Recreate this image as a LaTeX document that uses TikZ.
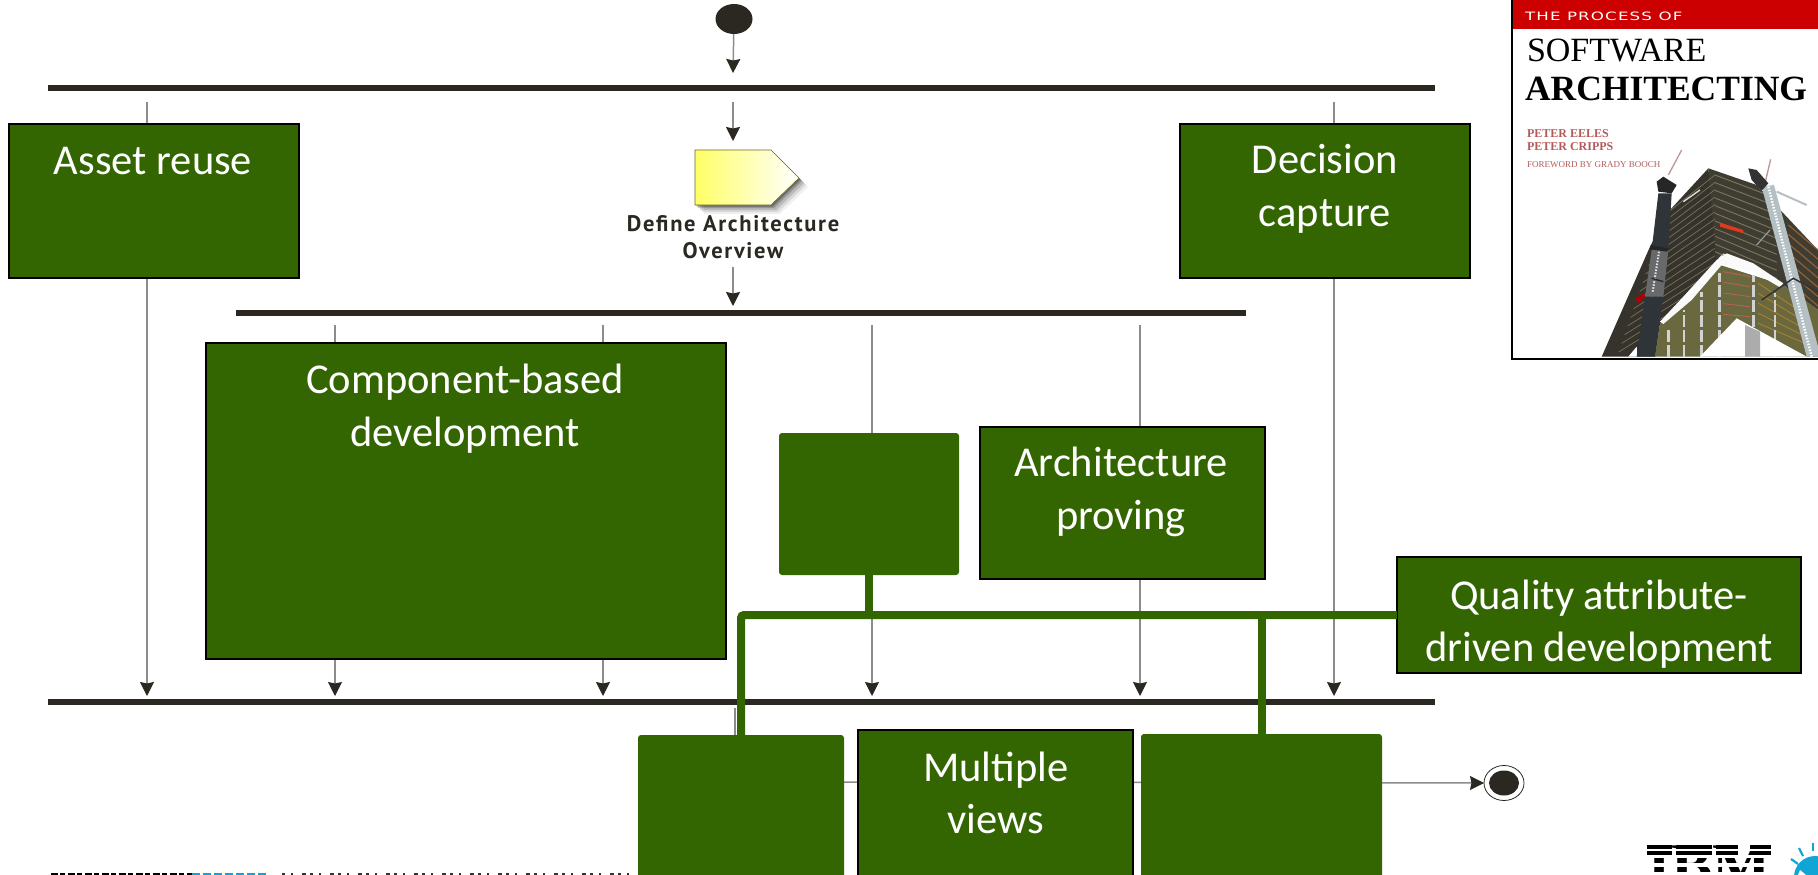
\documentclass[tikz,border=0pt]{standalone}
\usepackage{fontspec}
\setmainfont{Carlito}
\newfontfamily\coverserif{Liberation Serif}
\newfontfamily\coverwide[FakeStretch=1.45,LetterSpace=10]{DejaVu Sans}
\newfontfamily\handfont[LetterSpace=7.5]{PT Sans}
\usetikzlibrary{arrows.meta,shapes.geometric,backgrounds}
\definecolor{leaf}{HTML}{336600}
\definecolor{ink}{HTML}{2B2822}
\definecolor{flowgray}{HTML}{8C8C8C}
\definecolor{bookred}{HTML}{CC0000}
\definecolor{rose}{HTML}{B45A5A}
\definecolor{ibmblue}{HTML}{10A5D5}
\definecolor{faceleft}{HTML}{35332B}
\definecolor{faceright}{HTML}{3F3C32}
\definecolor{floorline}{HTML}{77735C}
\definecolor{lowerface}{HTML}{69683F}
\definecolor{steel}{HTML}{B4C0C4}
\definecolor{darksteel}{HTML}{2E3438}
\tikzset{
  every node/.style={inner sep=0pt,outer sep=0pt},
  bar/.style={fill=ink,minimum height=7pt},
  sharpbox/.style={fill=leaf,draw=black,line width=1.6pt},
  softbox/.style={fill=leaf,rounded corners=3pt},
  boxtext/.style={text=white,align=center,font=\fontsize{42.5}{52.5}\selectfont},
  flowarrow/.style={draw=flowgray,line width=1.5pt,-{Stealth[length=14pt,width=14pt,inset=1.5pt,color=ink]}},
  flowline/.style={draw=flowgray,line width=1.5pt},
  greenlink/.style={draw=leaf,line width=8pt,rounded corners=3pt},
}
\newcommand{\placebox}[6]{\node[#2,minimum width=#4-#3,minimum height=#6-#5] (#1) at ({(#3+#4)/2},{(#5+#6)/2}) {};}
\begin{document}
\begin{tikzpicture}[x=1pt,y=-1pt]
\useasboundingbox (0,0) rectangle (1818,875);
\clip (0,0) rectangle (1818,875);

% free connector ends
\foreach \n/\px/\py in {a0/733/34,a1/733/73,a2/733/102,a3/733/141,a4/733/267,a5/733/306,
  t1/147/102,b1/147/696,t2/1334/102,b2/1334/696,
  t3/335/325,b3/335/696,t4/603/325,b4/603/696,t5/872/325,b5/872/696,t6/1140/325,b6/1140/696,
  v1/735/708,v2/735/735,h1/844/782,gj/1396/615}
  {\coordinate (\n) at (\px,\py);}

% bars
\placebox{barone}{bar}{48}{1435}{85}{91}
\placebox{bartwo}{bar}{236}{1246}{310}{316}
\placebox{barthree}{bar}{48}{1435}{699}{705}

% start and end
\node[ellipse,fill=ink,minimum width=37pt,minimum height=30pt] (start) at (734,19) {};
\node[ellipse,draw=ink,line width=.8pt,fill=white,minimum width=40pt,minimum height=35pt] (finish) at (1504,783) {};
\node[ellipse,fill=ink,minimum width=30pt,minimum height=25pt] (finishdot) at (1504,783) {};

% activity
\foreach \o/\f in {9/6,7/10,5/14,3/20,1.5/28}{
  \fill[black,opacity=\f/100,shift={(\o,\o)}] (695,150) -- (771,150) -- (799,178) -- (771,205) -- (695,205) -- cycle;
}
\shade[left color=yellow!60!white,right color=white,draw=olive!70!black,line width=.6pt]
  (695,150) -- (771,150) -- (799,178) -- (771,205) -- (695,205) -- cycle;
\node[text=ink,align=center,font=\handfont\bfseries\fontsize{22.5}{27}\selectfont] (actlabel) at (733,237) {Define Architecture\\Overview};

% green boxes
\placebox{asset}{sharpbox}{9}{299}{124}{278}
\placebox{decision}{sharpbox}{1180}{1470}{124}{278}
\placebox{component}{sharpbox}{206}{726}{343}{659}
\placebox{blank}{softbox}{779}{959}{433}{575}
\placebox{proving}{sharpbox}{980}{1265}{427}{579}
\placebox{quality}{sharpbox}{1397}{1801}{557}{673}
\placebox{boxa}{softbox}{638}{844}{735}{890}
\placebox{views}{sharpbox}{858}{1133}{730}{890}
\placebox{boxc}{softbox}{1141}{1382}{734}{890}

\node[boxtext] (assettext) at (153,161.5) {Asset reuse};
\node[boxtext] (decisiontext) at (1325,189) {Decision\\capture};
\node[boxtext] (componenttext) at (465,408.5) {Component-based\\development};
\node[boxtext] (provingtext) at (1121,492) {Architecture\\proving};
\node[boxtext] (qualitytext) at (1599,624) {Quality attribute-\\driven development};
\node[boxtext] (viewstext) at (996,793) {Multiple\\views};

% green links
\draw[greenlink] (quality.west|-gj) -- (boxa.north|-gj) -- (boxa.north);
\draw[draw=leaf,line width=8pt] (blank.south) -- (blank.south|-gj);
\draw[draw=leaf,line width=8pt] (boxc.north) -- (boxc.north|-gj);

% flows behind everything
\begin{pgfonlayer}{background}
  \fill[white] (0,0) rectangle (1818,875);
  \draw[flowarrow] (start) -- (a1);
  \draw[flowarrow] (a2) -- (a3);
  \draw[flowarrow] (a4) -- (a5);
  \draw[flowarrow] (t1) -- (b1);
  \draw[flowarrow] (t2) -- (b2);
  \draw[flowarrow] (t3) -- (b3);
  \draw[flowarrow] (t4) -- (b4);
  \draw[flowarrow] (t5) -- (b5);
  \draw[flowarrow] (t6) -- (b6);
  \draw[flowline] (v1) -- (v2);
  \draw[flowarrow] (h1) -- (finish.west);
\end{pgfonlayer}

% book cover
\begin{scope}
  \clip (1511,0) rectangle (1818,360);
  \fill[white] (1511,0) rectangle (1818,360);
  \fill[bookred] (1511,0) rectangle (1818,29);
  \begin{scope}[shift={(1580,150)},x=.3333pt,y=-.3333pt]
    % jibs
    \draw[rose!60!gray!70,line width=1.3pt] (265,75) -- (305,0);
    \draw[rose!60!gray!70,line width=1.3pt] (555,100) -- (572,28);
    \draw[steel,line width=2pt] (590,125) -- (680,165);
    % dark faces
    \fill[faceleft] (65,620) -- (210,290) -- (270,180) -- (385,55) -- (420,360) -- (240,520) -- (225,620) -- cycle;
    \fill[faceright] (385,55) -- (530,105) -- (714,300) -- (714,480) -- (610,405) -- (430,310) -- (410,330) -- cycle;
    \foreach \k in {0,...,16}{
      \draw[floorline,line width=.7pt] (405,{75+\k*22}) -- ({260-\k*9},{190+\k*26});
    }
    \foreach \k in {0,...,10}{
      \draw[floorline,line width=1pt] (405,{75+\k*23}) -- (590,{145+\k*24});
    }
    \foreach \k in {0,...,7}{
      \draw[brown!75!black,line width=1.2pt] (625,{225+\k*28}) -- (714,{300+\k*28});
    }
    \fill[red!55!brown] (420,218) -- (490,240) -- (490,250) -- (420,230) -- cycle;
    \fill[red!70!black] (168,445) -- (192,428) -- (195,440) -- (175,460) -- cycle;
    \draw[white!70!gray,line width=1.4pt] (310,155) -- (360,120);
    \draw[gray!80,line width=1.2pt] (530,285) -- (570,240);
    % lower floors
    \fill[lowerface] (225,620) -- (240,520) -- (420,345) -- (610,405) -- (714,480) -- (714,620) -- cycle;
    \foreach \k in {0,...,4}{
      \draw[rose!75!brown,line width=.9pt] (430,{365+\k*32}) -- (510,{380+\k*30});
      \draw[brown!70!olive,line width=.9pt] (535,{400+\k*30}) -- (670,{490+\k*22});
    }
    \foreach \k/\t in {265/530,312/480,365/425,418/370,520/375,585/430}{
      \draw[gray!35!white,line width=2.5pt,dash pattern=on 12pt off 3pt] (\k,620) -- (\k,\t);
    }
    % snow
    \fill[white!96!gray] (240,515) -- (310,440) -- (410,330) -- (440,310) -- (520,340) -- (610,400) -- (600,412) -- (520,365) -- (425,345) -- (335,450) -- (250,522) -- cycle;
    \fill[white] (360,620) -- (470,505) -- (680,620) -- cycle;
    \fill[gray!65] (495,525) -- (540,545) -- (540,620) -- (495,620) -- cycle;
    \fill[white] (145,620) -- (170,590) -- (172,620) -- cycle;
    % left tower
    \fill[darksteel] (170,620) -- (195,440) -- (250,440) -- (225,620) -- cycle;
    \fill[gray!70!darksteel] (195,440) -- (215,300) -- (265,300) -- (250,440) -- cycle;
    \fill[darksteel] (215,300) -- (235,130) -- (275,130) -- (265,300) -- cycle;
    \fill[black!85] (230,95) -- (250,80) -- (290,105) -- (275,130) -- (235,125) -- cycle;
    \draw[white!80!gray,line width=2pt,dash pattern=on 1.5pt off 1.5pt] (218,425) -- (238,300);
    \fill[black!85] (212,285) -- (265,295) -- (262,305) -- (210,298) -- cycle;
    \draw[black!85,line width=1.4pt] (215,385) -- (250,395);
    % right tower
    \fill[steel] (545,110) -- (582,105) -- (714,590) -- (714,620) -- (680,620) -- cycle;
    \draw[white,line width=2.5pt,dash pattern=on 1.5pt off 1.5pt] (565,110) -- (695,620);
    \fill[black!80] (505,55) -- (530,60) -- (565,100) -- (545,122) -- (515,90) -- cycle;
    \draw[black!80,line width=1.5pt] (545,450) -- (640,385) -- (714,425);
  \end{scope}
  \node[anchor=west,text=white,font=\coverwide\fontsize{11.5}{14}\selectfont] (covertop) at (1525,16.5) {THE PROCESS OF};
  \node[anchor=base west,text=black,font=\coverserif\fontsize{34}{36}\selectfont] (covertitle) at (1527,62) {SOFTWARE};
  \node[anchor=base west,text=black,font=\coverserif\bfseries\fontsize{35.5}{38}\selectfont] (covertitleb) at (1525,100) {ARCHITECTING};
  \node[anchor=base west,text=rose,font=\coverserif\bfseries\fontsize{12}{14}\selectfont] (authora) at (1527,137.5) {PETER EELES};
  \node[anchor=base west,text=rose,font=\coverserif\bfseries\fontsize{12}{14}\selectfont] (authorb) at (1527,150) {PETER CRIPPS};
  \node[anchor=base west,text=rose,font=\coverserif\fontsize{9}{11}\selectfont] (foreword) at (1527,167) {FOREWORD BY GRADY BOOCH};
  \draw[black,line width=2pt] (1512,0) -- (1512,358.5) -- (1818,358.5);
\end{scope}

% footer fragments cut off by the page edge
\draw[black,line width=2.5pt,dash pattern=on 7pt off 2pt on 5pt off 3pt] (51,874.5) -- (192,874.5);
\draw[ibmblue,line width=2.5pt,dash pattern=on 8pt off 3pt] (192,874.5) -- (268,874.5);
\draw[black!80,line width=2.5pt,dash pattern=on 3pt off 6pt on 2pt off 9pt on 4pt off 4pt] (282,874.5) -- (638,874.5);

% logo
\node[anchor=base west,text=black,font=\coverserif\bfseries\fontsize{62}{62}\selectfont] (ibm) at (1647,886) {IBM};
\foreach \ya/\yb in {845/849,851/855}{
  \fill[black] (1647,\ya) rectangle (1672,\yb);
  \fill[black] (1676,\ya) rectangle (1712,\yb);
  \fill[black] (1716,\ya) rectangle (1738,\yb);
  \fill[black] (1750,\ya) rectangle (1771,\yb);
}
\foreach \ya/\yb in {849/851,855/858,863/867,872/875}{\fill[white] (1645,\ya) rectangle (1775,\yb);}
\draw[ibmblue,line width=2.2pt] (1791,859) -- (1798,864);
\draw[ibmblue,line width=2.2pt] (1799,848) -- (1803,856);
\draw[ibmblue,line width=2.2pt] (1813,843) -- (1813,851);
\fill[ibmblue] (1815,877) circle (21pt);
\fill[white] (1800,870) -- (1806,875) -- (1798,875) -- cycle;
\end{tikzpicture}
\end{document}
